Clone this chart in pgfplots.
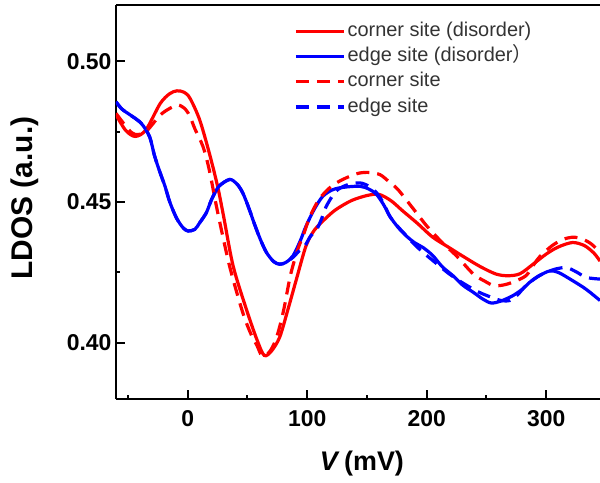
\documentclass[border=0pt]{standalone}
\usepackage{pgfplots}
\pgfplotsset{compat=1.18}
\usepackage{fontspec}
\setmainfont{Liberation Sans}
\newfontfamily\cjk{Noto Sans CJK SC}
\definecolor{pr}{RGB}{255,0,0}
\definecolor{pb}{RGB}{0,0,255}
\begin{document}
\begin{tikzpicture}
\begin{axis}[
  name=ax,
  scale only axis, width=484bp, height=394bp,
  xmin=-60, xmax=345, ymin=0.38, ymax=0.52,
  axis x line*=bottom, axis y line*=left,
  axis line style={line width=2.2bp, black},
  tick align=inside,
  major tick length=9bp, minor tick length=4bp,
  every tick/.style={line width=2bp, black},
  xtick={0,100,200,300}, minor xtick={-50,50,150,250},
  ytick={0.40,0.45,0.50}, minor ytick={0.425,0.475},
  /pgf/number format/assume math mode=true,
  yticklabel style={xshift=-1bp, /pgf/number format/.cd, fixed, fixed zerofill, precision=2},
  tick label style={font=\bfseries\fontsize{23}{23}\selectfont},
  xticklabel style={yshift=-8bp},
  ylabel={LDOS (a.u.)},
  ylabel style={font=\bfseries\fontsize{30}{30}\selectfont, at={(axis description cs:-0.188,0.51)}, anchor=center},
  xlabel={\textit{V}\,(mV)},
  xlabel style={font=\bfseries\fontsize{27}{27}\selectfont, at={(axis description cs:0.508,-0.165)}, anchor=center},
  legend cell align=left,
  legend image code/.code={\draw[#1] (0bp,0bp) -- (48bp,0bp);},
  legend style={draw=none, fill=none, at={(axis description cs:0.362,0.962)}, anchor=north west,
    font=\fontsize{20}{20}\selectfont, text=black!80,
    nodes={inner sep=0pt, text height=14bp, text depth=4bp}, row sep=7.3bp, column sep=2bp},
  every axis plot/.append style={line width=3.2bp, smooth, tension=0.5},
]
\addplot[pr] coordinates {
(-60,0.4810) (-52,0.4755) (-44,0.4733) (-35,0.4756) (-23,0.4850) (-15,0.4885) (-9,0.4895)
(-3,0.4890) (2,0.4868) (10,0.4792) (18,0.4675) (25,0.4556) (30,0.4450) (38,0.4273)
(49,0.4120) (58,0.4010) (64,0.3955) (70,0.3970) (77,0.4020) (84,0.4120) (91,0.4226)
(99,0.4344) (106,0.4400) (115,0.4440) (124,0.4473) (137,0.4505) (150,0.4523) (160,0.4527)
(170,0.4505) (180,0.4468) (192,0.4425) (205,0.4375) (218,0.4340) (230,0.4308) (245,0.4270)
(258,0.4244) (268,0.4238) (278,0.4245) (289,0.4279) (300,0.4315) (310,0.4340) (322,0.4356)
(332,0.4345) (340,0.4318) (345,0.4290)};
\addlegendentry{corner site (disorder)}
\addplot[pb] coordinates {
(-60,0.4856) (-55,0.4830) (-48,0.4809) (-39,0.4780) (-32,0.4733) (-27.6,0.4662) (-23,0.4603)
(-19,0.4556) (-15,0.4500) (-9.5,0.4444) (-4,0.4409) (0.3,0.4397) (6,0.4403) (10,0.4426)
(15.6,0.4462) (20,0.4509) (26,0.4555) (35,0.4580) (41,0.4565) (46,0.4533) (51,0.4480) (56,0.4420)
(61,0.4365) (66,0.4320) (72,0.4288) (77,0.4279) (82,0.4285) (88,0.4308) (94,0.4360)
(99,0.4414) (106,0.4475) (113,0.4520) (121,0.4543) (130,0.4552) (144,0.4556) (152,0.4545)
(158,0.4527) (164,0.4490) (169,0.4450) (176,0.4410) (183,0.4379) (190,0.4355) (197,0.4338)
(205,0.4310) (213,0.4270) (222,0.4238) (230,0.4205) (239,0.4179) (247,0.4155) (254,0.4141)
(262,0.4148) (272,0.4167) (280,0.4190) (286,0.4214) (295,0.4240) (303,0.4255) (310,0.4250)
(320,0.4226) (333,0.4191) (345,0.4150)};
\addlegendentry{edge site (disorder{\cjk ）}}
\addplot[pr, dash pattern=on 13bp off 8bp] coordinates {
(-60,0.4815) (-50,0.4760) (-44,0.4740) (-35,0.4750) (-23,0.4809) (-14,0.4835) (-8,0.4845)
(-2,0.4830) (2,0.4803) (6,0.4760) (12.8,0.4697) (18,0.4615) (25,0.4465) (35,0.4273)
(46,0.4108) (53,0.4030) (58,0.3990) (62,0.3955) (68,0.3965) (74,0.4014) (80,0.4110)
(86,0.4240) (92,0.4330) (97,0.4385) (102,0.4445) (110,0.4510) (120,0.4555) (127,0.4574)
(136,0.4592) (144,0.4603) (152,0.4605) (161,0.4597) (169,0.4570) (176,0.4544) (188,0.4480)
(200,0.4415) (212,0.4360) (225,0.4308) (239,0.4244) (248,0.4220) (256,0.4203) (264,0.4205)
(272,0.4215) (283,0.4238) (290,0.4280) (295,0.4308) (305,0.4345) (314,0.4367) (323,0.4375)
(331,0.4367) (338,0.4350) (345,0.4320)};
\addlegendentry{corner site}
\addplot[pb, dash pattern=on 13bp off 8bp] coordinates {
(-60,0.4856) (-55,0.4830) (-48,0.4809) (-39,0.4780) (-32,0.4733) (-27.6,0.4662) (-23,0.4603)
(-19,0.4556) (-15,0.4500) (-9.5,0.4444) (-4,0.4409) (0.3,0.4397) (6,0.4403) (10,0.4426)
(15.6,0.4462) (20,0.4509) (26,0.4555) (35,0.4580) (41,0.4565) (46,0.4533) (51,0.4480) (56,0.4420)
(61,0.4365) (66,0.4320) (72,0.4288) (77,0.4279) (82,0.4285) (88,0.4303) (93,0.4325)
(98,0.4344) (103,0.4380) (108,0.4403) (112,0.4440) (116,0.4485) (124,0.4538) (133,0.4560)
(144,0.4568) (152,0.4555) (158,0.4533) (164,0.4495) (169,0.4450) (176,0.4412) (183,0.4380)
(191,0.4344) (200,0.4310) (210,0.4275) (219,0.4244) (231,0.4210) (244,0.4179) (255,0.4160)
(262,0.4150) (269.5,0.4150) (276,0.4170) (283,0.4203) (292,0.4233) (300,0.4250) (308,0.4262)
(317,0.4267) (325,0.4252) (333.6,0.4232) (345,0.4226)};
\addlegendentry{edge site}
\end{axis}
\draw[line width=2.2bp] (ax.north west) -- (ax.north east);
\pgfresetboundingbox
\useasboundingbox ([xshift=-116bp,yshift=-84bp]ax.south west) rectangle ([yshift=5bp]ax.north east);
\end{tikzpicture}
\end{document}
